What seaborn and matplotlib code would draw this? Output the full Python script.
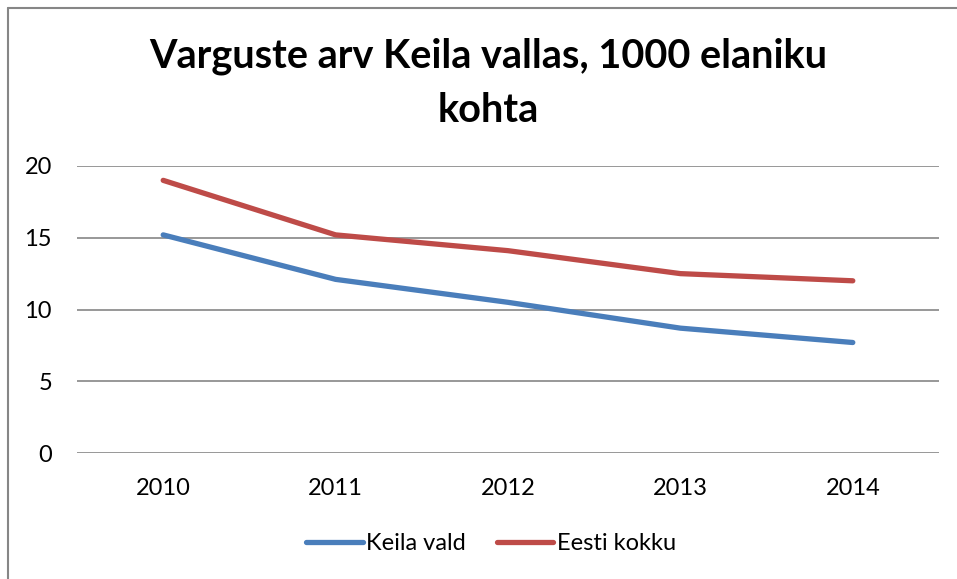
import matplotlib
matplotlib.use("Agg")
import matplotlib.pyplot as plt
import seaborn as sns
import pandas as pd
from matplotlib.lines import Line2D

years = [2010, 2011, 2012, 2013, 2014]
keila_vald = [15.2, 12.1, 10.5, 8.7, 7.7]
eesti_kokku = [19.0, 15.2, 14.1, 12.5, 12.0]
series_names = ["Keila vald", "Eesti kokku"]
colors = ["#4A7EBB", "#BE4B48"]
title = "Varguste arv Keila vallas, 1000 elaniku\nkohta"

df = pd.DataFrame({
    "year": years * 2,
    "value": keila_vald + eesti_kokku,
    "series": [series_names[0]] * len(years) + [series_names[1]] * len(years),
})

sns.set_theme(style="white")
plt.rcParams["font.family"] = ["Lato", "DejaVu Sans"]
plt.rcParams["text.color"] = "black"

fig = plt.figure(figsize=(9.57, 5.79), dpi=100)
ax = fig.add_axes([77 / 957, 1 - 453 / 579, (939 - 77) / 957, (453 - 166) / 579])

sns.lineplot(data=df, x="year", y="value", hue="series", palette=colors,
             linewidth=3.8, ax=ax, legend=False, solid_capstyle="round")

ax.set_xlim(years[0] - 0.5, years[-1] + 0.5)
ax.set_ylim(0, 20)
ax.set_yticks([0, 5, 10, 15, 20])
ax.set_xticks(years)
ax.set_xticklabels([str(y) for y in years])
ax.set_xlabel("")
ax.set_ylabel("")
ax.grid(axis="y", color="#868686", linewidth=1.2)
ax.set_axisbelow(True)
for s in ax.spines.values():
    s.set_visible(False)
ax.tick_params(axis="both", length=0, labelsize=17, colors="black")
ax.tick_params(axis="x", pad=18)
ax.tick_params(axis="y", pad=18)

fig.text(488 / 957, 1 - 83 / 579, title, ha="center", va="center", fontsize=28.5,
         fontweight="bold", linespacing=1.55, color="black")

handles = [Line2D([0], [0], color=c, linewidth=3.8, solid_capstyle="round") for c in colors]
leg = fig.legend(handles, series_names, loc="center", bbox_to_anchor=(491 / 957, 1 - 544 / 579),
                 ncol=2, frameon=False, fontsize=17, handlelength=2.4, columnspacing=1.3,
                 handletextpad=0.15)
for t in leg.get_texts():
    t.set_color("black")

# outer chart frame
fig.add_artist(Line2D([8 / 957, 8 / 957], [0, 1 - 8 / 579], color="#868686", linewidth=1.5,
                      transform=fig.transFigure))
fig.add_artist(Line2D([8 / 957, 1], [1 - 8 / 579, 1 - 8 / 579], color="#868686", linewidth=1.5,
                      transform=fig.transFigure))

fig.savefig("out.png", dpi=100)
